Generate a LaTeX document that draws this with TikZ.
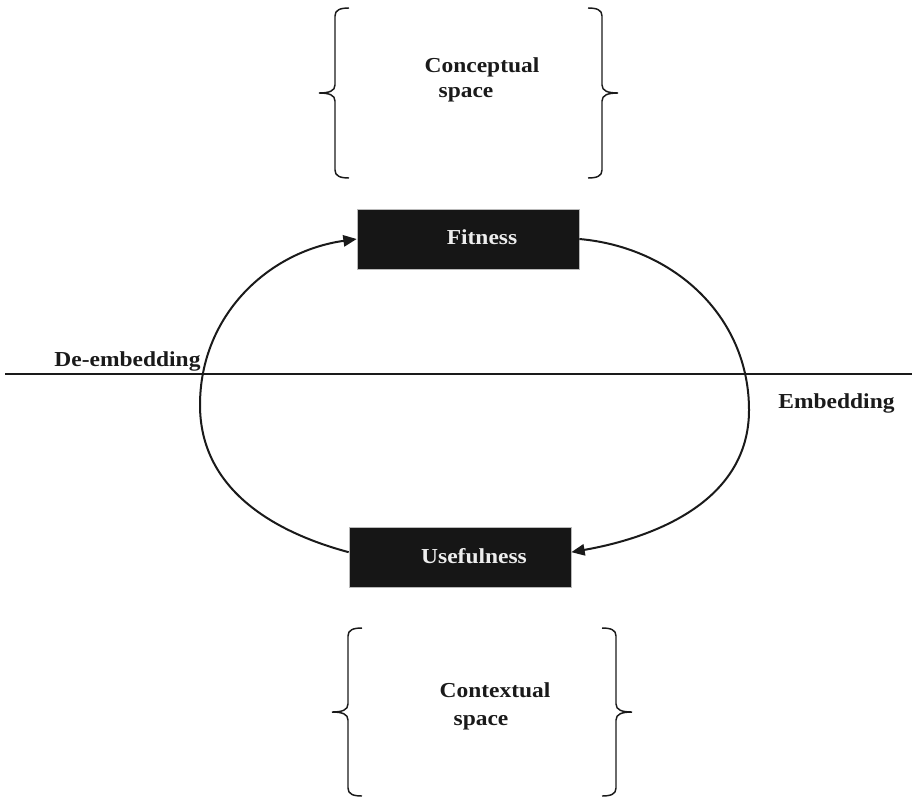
\documentclass[tikz,border=0pt]{standalone}
\usepackage{fontspec}
\setmainfont{Liberation Serif}[FakeStretch=1.1]
\usetikzlibrary{arrows.meta}
\definecolor{ink}{RGB}{26,26,26}
\definecolor{boxfill}{RGB}{22,22,22}
\tikzset{
  lbl/.style={font=\fontsize{16}{19}\selectfont\bfseries, text=ink, anchor=base, inner sep=0pt},
  boxlbl/.style={lbl, text=white!93!black},
  darkbox/.style={rectangle, fill=boxfill, draw=gray!55, line width=0.5pt,
    minimum width=166.5pt, minimum height=45pt, inner sep=0pt},
  flow/.style={line width=1.5pt, draw=ink},
  tipped/.style={-{Triangle[length=10pt,width=8.5pt]}},
  bracket/.style={line width=1.1pt, draw=ink},
  divider/.style={line width=0.9pt, draw=ink},
  brc/.pic={
    \draw[bracket] (30,-#1) .. controls (21,-#1) and (16,-#1+2) .. (16,-#1+8)
      -- (16,-8) .. controls (16,-2) and (10,0) .. (0,0)
      .. controls (10,0) and (16,2) .. (16,8)
      -- (16,#1-8) .. controls (16,#1-2) and (21,#1) .. (30,#1);
  }
}
\begin{document}
\begin{tikzpicture}[x=0.75pt,y=-0.75pt]
  \useasboundingbox (0,0) rectangle (912,799);

  % braces around the two spaces
  \pic at (319,93) {brc=85};
  \pic[xscale=-1] at (618,93) {brc=85};
  \pic at (332,712) {brc=84};
  \pic[xscale=-1] at (632,712) {brc=84};

  \node[lbl] (concA) at (482,72) {Conceptual};
  \node[lbl] (concB) at (466,97) {space};
  \node[lbl] (contA) at (495,697) {Contextual};
  \node[lbl] (contB) at (481,725) {space};

  % the two states
  \node[darkbox] (fit) at (468,239) {};
  \node[boxlbl] (fitT) at (482,244) {Fitness};
  \node[darkbox] (use) at (460,557.5) {};
  \node[boxlbl] (useT) at (474,563) {Usefulness};

  % dividing line between the spaces
  \coordinate (hl) at (5,374);
  \coordinate (hr) at (912,374);
  \draw[divider] (hl) -- (hr);
  \node[lbl] (deemb) at (127.5,366) {De-embedding};
  \node[lbl] (emb) at (836.5,408) {Embedding};

  % the cycle
  \coordinate (lm) at (200,405);
  \coordinate (rm) at (749,410);
  \draw[flow,tipped] ([yshift=4pt]use.west) to[out=165,in=-90] (lm)
    to[out=90,in=188] (fit.west);
  \draw[flow,tipped] (fit.east) to[out=-5,in=90] (rm)
    to[out=-90,in=10] ([yshift=4pt]use.east);
\end{tikzpicture}
\end{document}
